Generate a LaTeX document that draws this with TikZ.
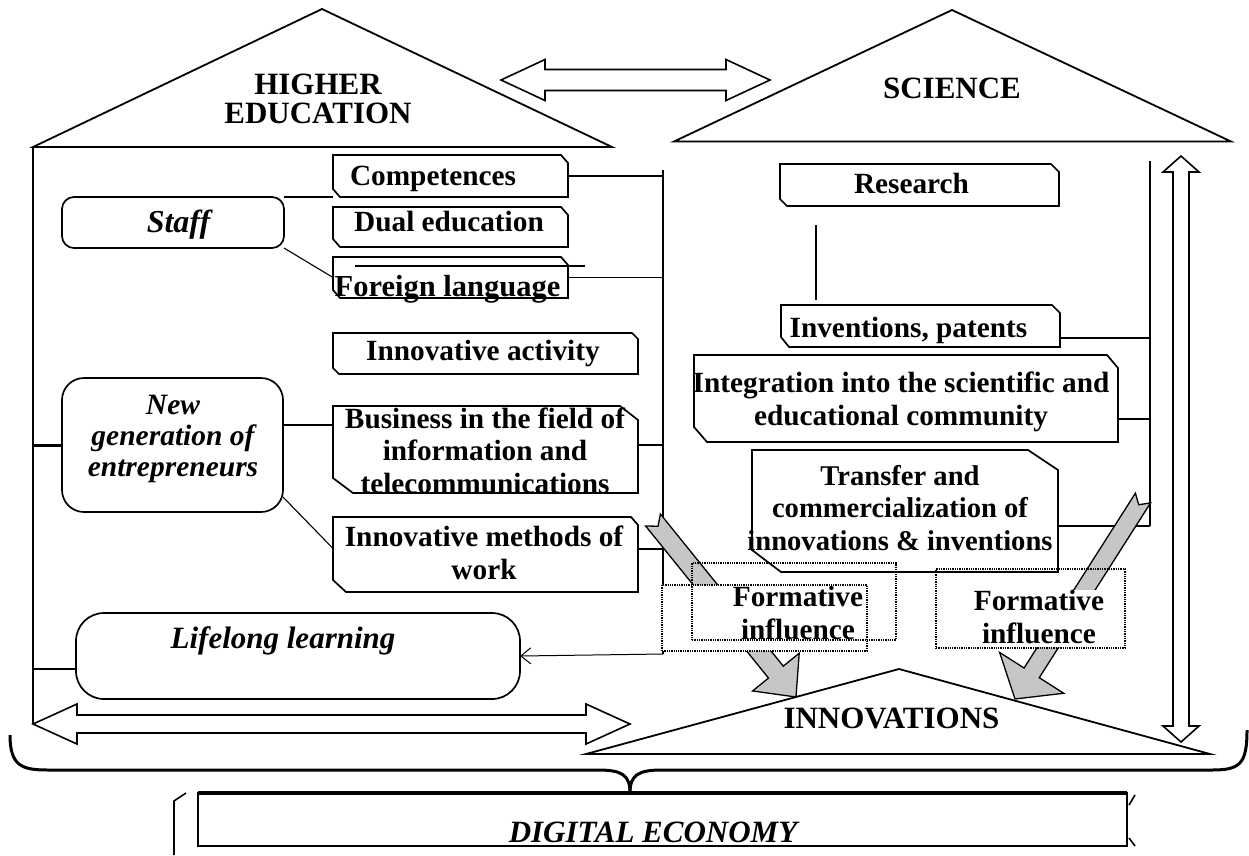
\documentclass[tikz,border=0pt]{standalone}
\usepackage{fontspec}
\setmainfont{Liberation Serif}
\usetikzlibrary{calc,arrows.meta}

% box with chamfered top-right and bottom-left corners:
% name, cx, cy, width, height, top-right cut (x,y), bottom-left cut (x,y)
\newcommand{\chamfered}[9]{%
  \node[frame, minimum width=#4, minimum height=#5] (#1) at (#2,#3) {};
  \draw[outline] (#1.north west) -- ([xshift=-#6pt]#1.north east)
    -- ([yshift=-#7pt]#1.north east) -- (#1.south east)
    -- ([xshift=#8pt]#1.south west) -- ([yshift=#9pt]#1.south west) -- cycle;}

% horizontal double block arrow between two tips at equal height
\newcommand{\hdouble}[5]{%
  \draw[blockarrow] (#1) -- ($(#1)+(#5,-#4)$) -- ($(#1)+(#5,-#3)$)
    -- ($(#2)+(-#5,-#3)$) -- ($(#2)+(-#5,-#4)$) -- (#2)
    -- ($(#2)+(-#5,#4)$) -- ($(#2)+(-#5,#3)$) -- ($(#1)+(#5,#3)$)
    -- ($(#1)+(#5,#4)$) -- cycle;}

% vertical double block arrow, first tip on top
\newcommand{\vdouble}[5]{%
  \draw[blockarrow] (#1) -- ($(#1)+(#4,#5)$) -- ($(#1)+(#3,#5)$)
    -- ($(#2)+(#3,-#5)$) -- ($(#2)+(#4,-#5)$) -- (#2)
    -- ($(#2)+(-#4,-#5)$) -- ($(#2)+(-#3,-#5)$) -- ($(#1)+(-#3,#5)$)
    -- ($(#1)+(-#4,#5)$) -- cycle;}

% grey notched arrow: tail x,y, tip x,y, half shaft, half head, head length
\newcommand{\grayarrow}[7]{%
  \pgfmathsetmacro{\gdx}{#3-#1}\pgfmathsetmacro{\gdy}{#4-#2}%
  \pgfmathsetmacro{\glen}{veclen(\gdx,\gdy)}%
  \pgfmathsetmacro{\gang}{atan2(-\gdy,\gdx)}%
  \begin{scope}[shift={(#1,#2)}, rotate=\gang]
    \draw[grayband] (0,#5) -- (\glen-#7,#5) -- (\glen-#7,#6) -- (\glen,0)
      -- (\glen-#7,-#6) -- (\glen-#7,-#5) -- (0,-#5) -- (8,0) -- cycle;
  \end{scope}}

\begin{document}
\begin{tikzpicture}[x=1pt,y=-1pt,
  outline/.style={line width=1.7pt, line join=miter},
  conn/.style={line width=1.1pt},
  frame/.style={inner sep=0pt, outer sep=0pt, draw=none},
  rbox/.style={draw, line width=1.7pt, rounded corners=#1, inner sep=0pt, outer sep=0pt},
  txt/.style={font=\fontsize{29.3}{32.5}\selectfont\bfseries, align=center, inner sep=0pt},
  ital/.style={font=\fontsize{29.5}{31}\selectfont\bfseries\itshape, align=center, inner sep=0pt},
  heading/.style={font=\fontsize{31}{29}\selectfont\bfseries, align=center, inner sep=0pt},
  roof/.style={line width=1.8pt, line join=miter},
  blockarrow/.style={draw, line width=1.6pt, fill=white, line join=miter},
  grayband/.style={draw, line width=1.3pt, fill=gray!45, line join=miter},
  dots/.style={draw, densely dotted, line width=1.3pt, inner sep=0pt, outer sep=0pt},
]
\useasboundingbox (0,0) rectangle (1249,855);

% ---------- houses ----------
\coordinate (heL) at (33,147);
\coordinate (heApex) at (322,9);
\coordinate (heR) at (612,147);
\draw[roof] (heL) -- (heApex) -- (heR) -- cycle;
\node[heading] (heText) at (318,99) {HIGHER\\EDUCATION};

\coordinate (sciL) at (674,141.5);
\coordinate (sciApex) at (952,10);
\coordinate (sciR) at (1231,141.5);
\draw[roof] (sciL) -- (sciApex) -- (sciR) -- cycle;
\node[heading, anchor=base] (sciText) at (952,98) {SCIENCE};

% left wall of the higher education house
\coordinate (wallTop) at (33,147);
\coordinate (hArrowL) at (33,724);
\coordinate (hArrowR) at (630,724);
\draw[line width=1.3pt] (wallTop) -- (hArrowL);

% ---------- left column ----------
\chamfered{comp}{450.5}{176}{235}{42}{7}{8}{7}{8}
\chamfered{dual}{450.5}{227}{235}{40}{7}{8}{7}{8}
\chamfered{lang}{450.5}{277.5}{235}{41}{7}{8}{7}{8}
\chamfered{act}{485.5}{353.5}{305}{41}{6}{6}{6}{6}
\chamfered{bus}{485.5}{449.5}{305}{87}{18}{14}{20}{15}
\chamfered{meth}{485.5}{554.5}{305}{75}{7}{8}{13}{12}

\node[txt, anchor=base] (compT) at (433,185) {Competences};
\node[txt, anchor=base] (dualT) at (449,231.5) {Dual education};
\node[txt, anchor=base, font=\fontsize{30.5}{32}\selectfont\bfseries] (langT) at (447.5,296.5) {Foreign language};
\draw[line width=2pt] ($(lang.north west)+(22,9)$) -- ($(lang.north east)+(17,9)$);
\node[txt, anchor=base] (actT) at (483,360) {Innovative activity};
\node[txt] (busT) at (485,450.5) {Business in the field of\\information and\\telecommunications};
\node[txt] (methT) at (484,553) {Innovative methods of\\work};

\node[rbox=12, minimum width=222, minimum height=51] (staff) at (173,222.5) {};
\node[ital, font=\fontsize{32}{32}\selectfont\bfseries\itshape, anchor=base] (staffT) at (178.5,232) {Staff};
\node[rbox=22, minimum width=221, minimum height=134] (newgen) at (172.5,445) {};
\node[ital] (newgenT) at (173,439) {New\\generation of\\entrepreneurs};
\node[rbox=28, minimum width=444, minimum height=86] (life) at (298,656) {};
\node[ital, font=\fontsize{31}{31}\selectfont\bfseries\itshape, anchor=base] (lifeT) at (283,648) {Lifelong learning};

% links inside the left house
\draw[conn] (staff.north east) -- (comp.south west);
\draw[conn] (staff.south east) -- (lang.west);
\draw[conn] ([yshift=20pt]newgen.east) -- ([yshift=20pt]newgen.east -| bus.west);
\draw[conn] ([yshift=15pt]newgen.south east) -- ([yshift=6pt]meth.west);
\draw[line width=3pt] (newgen.west) -- (newgen.west -| wallTop);
\draw[conn] ([yshift=-13pt]life.west) -- ([yshift=-13pt]life.west -| wallTop);

% left collecting line
\coordinate (trunkL) at (663,170);
\coordinate (trunkLbot) at (663,654);
\draw[conn] (trunkL) -- (trunkLbot);
\draw[conn] (comp.east) -- (comp.east -| trunkL);
\draw[conn] (lang.east) -- (lang.east -| trunkL);
\draw[conn] ([yshift=4.5pt]bus.east) -- ([yshift=4.5pt]bus.east -| trunkL);
\draw[conn] ([yshift=5.5pt]meth.east) -- ([yshift=5.5pt]meth.east -| trunkL);
\draw[line width=1pt, -{Straight Barb[length=10pt, width=16pt, line width=1pt]}] (trunkLbot) -- (life.east);

% ---------- right column ----------
\chamfered{res}{919.5}{185}{279}{42}{8}{8}{7}{7}
\chamfered{inv}{920.5}{326}{279}{42}{8}{8}{8}{10}
\chamfered{integ}{906}{398.5}{424}{87}{11}{13}{13}{15}
\chamfered{trans}{905}{511}{306}{122}{30}{20}{29}{22}

\node[txt, anchor=base] (resT) at (911.5,193) {Research};
\node[txt, anchor=base] (invT) at (908.5,337) {Inventions, patents};
\node[txt] (integT) at (901,402) {Integration into the scientific and\\educational community};
\node[txt, font=\fontsize{28.6}{32.5}\selectfont\bfseries] (transT) at (900,508) {Transfer and\\commercialization of\\innovations \& inventions};

\draw[conn] ($(res.south west)+(36,19)$) -- ($(inv.north west)+(35,-5)$);

\coordinate (trunkR) at (1150,161);
\coordinate (trunkRbot) at (1150,526);
\draw[conn] (trunkR) -- (trunkRbot);
\draw[conn] ([yshift=-12pt]inv.east) -- ([yshift=-12pt]inv.east -| trunkR);
\draw[conn] ([yshift=-20.5pt]integ.east) -- ([yshift=-20.5pt]integ.east -| trunkR);
\draw[conn] ([yshift=-15pt]trans.east) -- (trunkRbot);

% ---------- innovations ----------
\coordinate (innL) at (586,754);
\coordinate (innApex) at (899,669);
\coordinate (innR) at (1210,754);
\draw[roof] (innL) -- (innApex) -- (innR) -- cycle;
\node[heading, anchor=base] (innT) at (891.5,728) {INNOVATIONS};

% grey influence arrows
\grayarrow{653}{520}{796}{697}{9.5}{30}{32}
\grayarrow{1143}{498}{1015}{699}{9}{38}{31}

% formative influence frames
\node[dots, fill=white, minimum width=205, minimum height=66] (fB) at (764.5,618) {};
\node[dots, minimum width=204, minimum height=77] (fA) at (794,601.5) {};
\node[txt] (fAT) at (798,613) {Formative\\influence};
\fill[white] (937,590) rectangle (1124,647);
\node[dots, minimum width=189, minimum height=79] (fC) at (1030.5,608.5) {};
\node[txt] (fCT) at (1039,617) {Formative\\influence};

% ---------- double arrows ----------
\coordinate (topArrowL) at (501,80);
\coordinate (topArrowR) at (770,80);
\hdouble{topArrowL}{topArrowR}{10.5}{20.5}{44}
\hdouble{hArrowL}{hArrowR}{9}{20}{44}
\coordinate (vArrowT) at (1181,156);
\coordinate (vArrowB) at (1181,742);
\vdouble{vArrowT}{vArrowB}{8}{18}{16}

% ---------- brace ----------
\coordinate (braceTip) at (630,793);
\draw[line width=3pt] (10,735) .. controls (10,766) and (22,770) .. (48,770) -- (598,770)
  .. controls (622,770) and (630,775) .. (braceTip);
\draw[line width=3pt] (braceTip) .. controls (630,775) and (638,770) .. (662,770) -- (1212,770)
  .. controls (1240,770) and (1247,764) .. (1247,730);

% ---------- digital economy ----------
\node[frame, minimum width=929, minimum height=53] (dig) at (662.5,819.5) {};
\draw[line width=1.6pt] (dig.south west) rectangle (dig.north east);
\draw[line width=3.2pt] (dig.north west) -- (dig.north east);
\draw[line width=1.6pt] ([xshift=-12pt]dig.north west) -- ([xshift=-24pt,yshift=-8pt]dig.north west) -- ([xshift=-24pt,yshift=-62pt]dig.north west);
\draw[line width=1.6pt] ([xshift=8pt,yshift=-2pt]dig.north east) -- ([xshift=2pt,yshift=-12pt]dig.north east);
\draw[line width=1.6pt] ([xshift=8pt]dig.south east) -- ([xshift=2pt,yshift=8pt]dig.south east);
\node[anchor=base, inner sep=0pt, font=\fontsize{31}{31}\selectfont\bfseries\itshape] (digT) at (653,842) {DIGITAL ECONOMY};
\end{tikzpicture}
\end{document}
